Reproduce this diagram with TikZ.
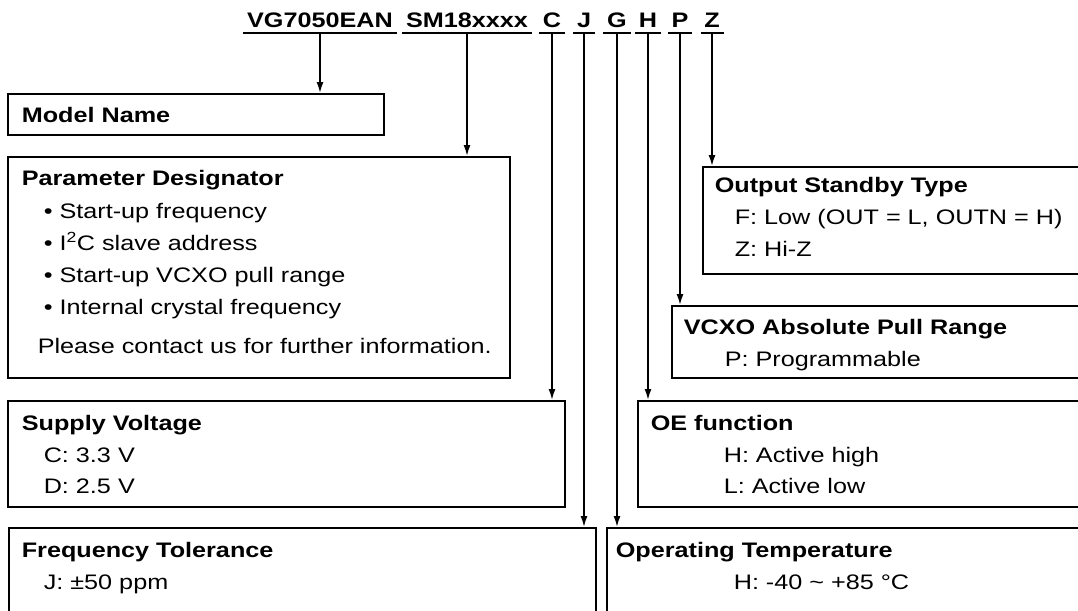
\documentclass[tikz,border=0pt]{standalone}
\usepackage{fontspec}
\setmainfont{Liberation Sans}[FakeStretch=1.2]
\usetikzlibrary{arrows.meta,positioning}
\newcommand{\dgfont}{\fontsize{21pt}{31pt}\selectfont}
\tikzset{
 >={Latex[length=11pt,width=7pt]},
 box/.style={draw,line width=1.6pt,inner sep=0pt,anchor=north west},
 code/.style={font=\dgfont\bfseries,anchor=base,inner sep=0pt},
 head/.style={font=\dgfont\bfseries,anchor=base west,inner sep=0pt},
 item/.style={font=\dgfont,anchor=base west,inner sep=0pt},
 ul/.style={line width=1.6pt}
}
\begin{document}
\begin{tikzpicture}[x=1pt,y=-1pt,line width=1.6pt]

\path[use as bounding box,clip] (0,0) rectangle (1078,610);

\path (320,28) node[code,name=vg] {VG7050EAN};
\path (467,28) node[code,name=sm] {SM18xxxx};
\path (552,28) node[code,name=c] {C};
\path (584,28) node[code,name=j] {J};
\path (617,28) node[code,name=g] {G};
\path (648,28) node[code,name=h] {H};
\path (680,28) node[code,name=p] {P};
\path (712,28) node[code,name=z] {Z};

\foreach \k in {vg,sm,c,j,g,h,p,z}
  \draw[ul] ([xshift=-3pt,yshift=-5pt]\k.base west) -- ([xshift=3pt,yshift=-5pt]\k.base east);

\path (7,93) node[box,name=model,minimum width=376pt,minimum height=41pt] {};
\path (7,156) node[box,name=param,minimum width=502pt,minimum height=221pt] {};
\path (702,166) node[box,name=standby,minimum width=420pt,minimum height=107pt] {};
\path (671,305) node[box,name=vcxo,minimum width=450pt,minimum height=72pt] {};
\path (7,400) node[box,name=supply,minimum width=557pt,minimum height=106pt] {};
\path (637,400) node[box,name=oe,minimum width=480pt,minimum height=106pt] {};
\path (8,527) node[box,name=freq,minimum width=587pt,minimum height=110pt] {};
\path (606,527) node[box,name=optemp,minimum width=500pt,minimum height=110pt] {};

\path (21,122) node[head,name=modelhd] {Model Name};

\path (21,185) node[head,name=paramhd] {Parameter Designator};
\path (43,218) node[item,name=param1] {\textbullet\ Start-up frequency};
\path (43,250) node[item,name=param2] {\textbullet\ I\textsuperscript{2}C slave address};
\path (43,282) node[item,name=param3] {\textbullet\ Start-up VCXO pull range};
\path (43,314) node[item,name=param4] {\textbullet\ Internal crystal frequency};
\path (37,353) node[item,name=param5] {Please contact us for further information.};

\path (714,192) node[head,name=standbyhd] {Output Standby Type};
\path (734,224) node[item,name=standby1] {F: Low (OUT = L, OUTN = H)};
\path (734,256) node[item,name=standby2] {Z: Hi-Z};

\path (683,334) node[head,name=vcxohd] {VCXO Absolute Pull Range};
\path (724,366) node[item,name=vcxo1] {P: Programmable};

\path (21,430) node[head,name=supplyhd] {Supply Voltage};
\path (43,462) node[item,name=supply1] {C: 3.3 V};
\path (43,493) node[item,name=supply2] {D: 2.5 V};

\path (650,430) node[head,name=oehd] {OE function};
\path (723,462) node[item,name=oe1] {H: Active high};
\path (723,493) node[item,name=oe2] {L: Active low};

\path (21,557) node[head,name=freqhd] {Frequency Tolerance};
\path (43,589) node[item,name=freq1] {J: \textpm50 ppm};

\path (615,557) node[head,name=optemphd] {Operating Temperature};
\path (733,589) node[item,name=optemp1] {H: -40 \textasciitilde\ +85 \textdegree C};

\path[->] ([yshift=-5pt]vg.base) edge (vg.base |- model.north);
\path[->] ([yshift=-5pt]sm.base) edge (sm.base |- param.north);
\path[->] ([yshift=-5pt]c.base) edge (c.base |- supply.north);
\path[->] ([yshift=-5pt]j.base) edge (j.base |- freq.north);
\path[->] ([yshift=-5pt]g.base) edge (g.base |- optemp.north);
\path[->] ([yshift=-5pt]h.base) edge (h.base |- oe.north);
\path[->] ([yshift=-5pt]p.base) edge (p.base |- vcxo.north);
\path[->] ([yshift=-5pt]z.base) edge (z.base |- standby.north);

\end{tikzpicture}
\end{document}
